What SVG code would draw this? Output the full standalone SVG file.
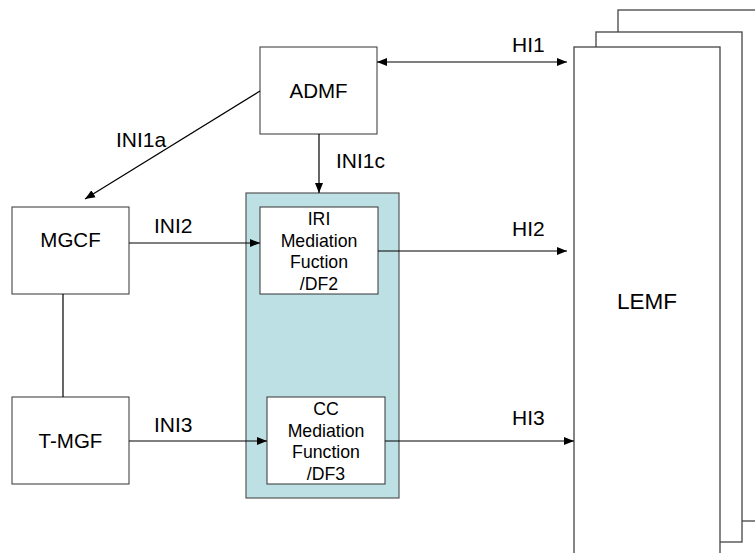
<svg xmlns="http://www.w3.org/2000/svg" width="755" height="553" viewBox="0 0 755 553">
<defs>
<marker id="ah" viewBox="0 0 10 10" refX="10" refY="5" markerWidth="10" markerHeight="10" markerUnits="userSpaceOnUse" orient="auto-start-reverse">
<path d="M0,1 L10,5 L0,9 z" fill="#000"/>
</marker>
<style>
.box{fill:#fff;stroke:#333;stroke-width:1}
.lemf{fill:#fff;stroke:#444;stroke-width:1.3}
.t{font-family:"Liberation Sans",Arial,sans-serif;fill:#000}
.n{font-size:20.5px;text-anchor:middle}
.s{font-size:17.7px;text-anchor:middle}
.l{font-size:21px}
.c{stroke:#000;stroke-width:1.2;fill:none}
</style>
</defs>
<rect width="755" height="553" fill="#fff"/>
<g id="LEMF">
<rect class="lemf" x="618" y="10" width="150" height="511"/>
<rect class="lemf" x="596" y="32" width="146" height="510"/>
<rect class="lemf" x="574" y="47" width="146" height="520"/>
<text class="t n" x="647" y="309" style="font-size:22.5px">LEMF</text>
</g>
<g id="DF">
<rect x="246" y="193" width="153" height="305" fill="#bce0e3" stroke="#555" stroke-width="1.2"/>
</g>
<g id="ADMF">
<rect class="box" x="260" y="47" width="117" height="87"/>
<text class="t n" x="318.5" y="98">ADMF</text>
</g>
<g id="MGCF">
<rect class="box" x="12" y="207" width="117" height="87"/>
<text class="t n" x="70.5" y="247">MGCF</text>
</g>
<g id="TMGF">
<rect class="box" x="12" y="397" width="117" height="87"/>
<text class="t n" x="70.5" y="448">T-MGF</text>
</g>
<g id="IRI">
<rect class="box" x="260" y="207" width="118" height="87"/>
<text class="t s" x="319" y="225">IRI</text>
<text class="t s" x="319" y="247">Mediation</text>
<text class="t s" x="319" y="268">Fuction</text>
<text class="t s" x="319" y="290">/DF2</text>
</g>
<g id="CC">
<rect class="box" x="267" y="397" width="118" height="87"/>
<text class="t s" x="326" y="415">CC</text>
<text class="t s" x="326" y="437">Mediation</text>
<text class="t s" x="326" y="458">Function</text>
<text class="t s" x="326" y="480">/DF3</text>
</g>
<g id="connectors">
<line class="c" x1="377" y1="62" x2="567" y2="62" marker-start="url(#ah)" marker-end="url(#ah)"/>
<line class="c" x1="260" y1="91" x2="85" y2="199" marker-end="url(#ah)"/>
<line class="c" x1="319" y1="134" x2="319" y2="193" marker-end="url(#ah)"/>
<line class="c" x1="129" y1="243" x2="260" y2="243" marker-end="url(#ah)"/>
<line class="c" x1="378" y1="251" x2="567" y2="251" marker-end="url(#ah)"/>
<line class="c" x1="63" y1="294" x2="63" y2="397"/>
<line class="c" x1="129" y1="441" x2="267" y2="441" marker-end="url(#ah)"/>
<line class="c" x1="385" y1="441" x2="574" y2="441" marker-end="url(#ah)"/>
<text class="t l" x="512" y="52">HI1</text>
<text class="t l" x="116" y="147">INI1a</text>
<text class="t l" x="336" y="168">INI1c</text>
<text class="t l" x="154" y="233">INI2</text>
<text class="t l" x="512" y="236">HI2</text>
<text class="t l" x="154" y="432">INI3</text>
<text class="t l" x="512" y="425">HI3</text>
</g>
</svg>
